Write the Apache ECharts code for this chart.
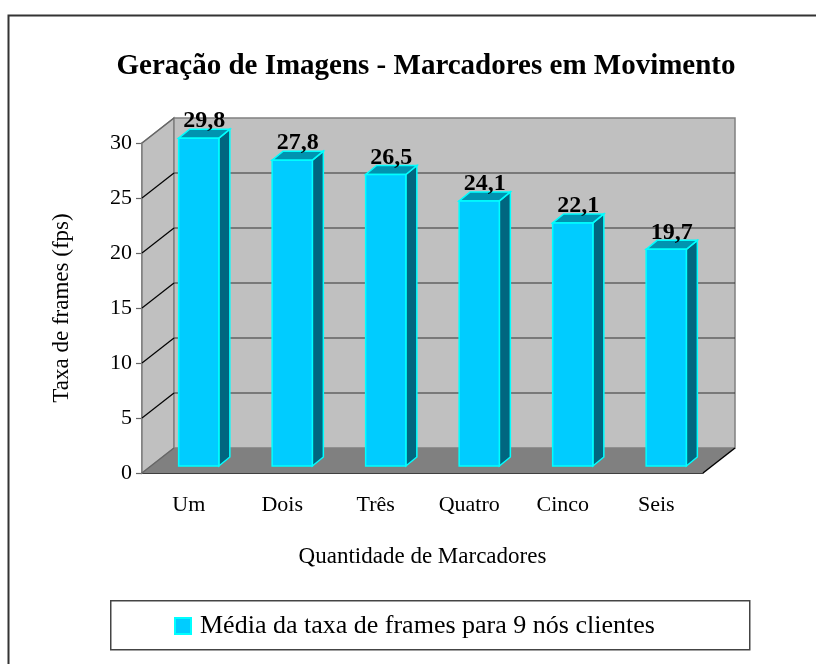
<!DOCTYPE html>
<html>
<head>
<meta charset="utf-8">
<script src="https://cdn.jsdelivr.net/npm/echarts@6/dist/echarts.min.js"></script>
<style>
  html, body { margin: 0; padding: 0; background: #fff; }
  #chart { width: 816px; height: 664px; }
</style>
</head>
<body>
<div id="chart"></div>
<script>
// Frame rate per number of moving markers
var categories = ['Um', 'Dois', 'Três', 'Quatro', 'Cinco', 'Seis'];
var frameRates = [29.8, 27.8, 26.5, 24.1, 22.1, 19.7];
var yTicks = [0, 5, 10, 15, 20, 25, 30];
var seriesName = 'Média da taxa de frames para 9 nós clientes';

var FONT = 'Liberation Serif';
// Depth of the 3D box (pixels) and of each bar
var WALL_DX = 32, WALL_DY = 25;
var BAR_OX = 10, BAR_OY = 7;
var BAR_DX = 11, BAR_DY = 9;

function fmt(v) { return v.toFixed(1).replace('.', ','); }

var chart = echarts.init(document.getElementById('chart'), null, { renderer: 'canvas' });

function renderWalls(params, api) {
  var n = categories.length;
  var band = api.size([1, 0])[0];
  var x0 = api.coord([0, 0])[0] - band / 2;
  var xR = api.coord([n - 1, 0])[0] + band / 2;
  var yMax = yTicks[yTicks.length - 1];
  var yTop = api.coord([0, yMax])[1];
  var yBot = api.coord([0, 0])[1];
  var kids = [];
  // left wall
  kids.push({ type: 'polygon', shape: { points: [[x0, yBot], [x0, yTop], [x0 + WALL_DX, yTop - WALL_DY], [x0 + WALL_DX, yBot - WALL_DY]] },
    style: { fill: '#C0C0C0', stroke: '#808080', lineWidth: 1.5 } });
  // back wall
  kids.push({ type: 'rect', shape: { x: x0 + WALL_DX, y: yTop - WALL_DY, width: xR - x0, height: yBot - yTop },
    style: { fill: '#C0C0C0', stroke: '#808080', lineWidth: 1.5 } });
  // floor
  kids.push({ type: 'polygon', shape: { points: [[x0, yBot], [xR, yBot], [xR + WALL_DX, yBot - WALL_DY], [x0 + WALL_DX, yBot - WALL_DY]] },
    style: { fill: '#808080', stroke: null } });
  kids.push({ type: 'line', shape: { x1: xR, y1: yBot, x2: xR + WALL_DX, y2: yBot - WALL_DY },
    style: { stroke: '#000', lineWidth: 1.5 } });
  // gridlines on back wall, and their diagonals on the left wall
  yTicks.forEach(function (t) {
    var y = api.coord([0, t])[1];
    if (t > 0 && t < yMax) {
      kids.push({ type: 'line', shape: { x1: x0 + WALL_DX, y1: y - WALL_DY, x2: xR + WALL_DX, y2: y - WALL_DY },
        style: { stroke: '#333', lineWidth: 1.2 } });
    }
    kids.push({ type: 'line', shape: { x1: x0, y1: y, x2: x0 + WALL_DX, y2: y - WALL_DY },
      style: { stroke: t === 0 || t === yMax ? '#666' : '#000', lineWidth: 1.2 } });
  });
  return { type: 'group', children: kids };
}

function renderBar(params, api) {
  var idx = api.value(0);
  var val = api.value(1);
  var c = api.coord([idx, val]);
  var b = api.coord([idx, 0]);
  var w = api.size([1, 0])[0] * 0.43;
  var fx = c[0] - w / 2 + BAR_OX;
  var top = c[1] - BAR_OY;
  var bottom = b[1] - BAR_OY;
  var edge = '#00FFFF';
  return {
    type: 'group',
    children: [
      { type: 'polygon', shape: { points: [[fx + w, top], [fx + w + BAR_DX, top - BAR_DY], [fx + w + BAR_DX, bottom - BAR_DY], [fx + w, bottom]] },
        style: { fill: '#006680', stroke: edge, lineWidth: 1.5 } },
      { type: 'polygon', shape: { points: [[fx, top], [fx + BAR_DX, top - BAR_DY], [fx + w + BAR_DX, top - BAR_DY], [fx + w, top]] },
        style: { fill: '#0093B0', stroke: edge, lineWidth: 1.5 } },
      { type: 'rect', shape: { x: fx, y: top, width: w, height: bottom - top },
        style: { fill: '#00CCFF', stroke: edge, lineWidth: 1.5 } },
      { type: 'text', x: fx + w / 2 + BAR_DX / 2, y: top - BAR_DY - 8,
        style: { text: fmt(val), fill: '#000', font: 'bold 24px "' + FONT + '"', align: 'center', verticalAlign: 'middle' } }
    ]
  };
}

var option = {
  backgroundColor: '#fff',
  animation: false,
  title: {
    text: 'Geração de Imagens - Marcadores em Movimento',
    left: 421, top: 47, textAlign: 'center',
    textStyle: { fontFamily: FONT, fontWeight: 'bold', fontSize: 29, color: '#000' }
  },
  graphic: [
    { type: 'rect', left: 6, top: 13, shape: { width: 830, height: 700 }, style: { fill: 'none', stroke: '#333', lineWidth: 2 }, z: -10 },
    { type: 'rect', left: 110, top: 600, shape: { width: 639, height: 49 }, style: { fill: '#fff', stroke: '#444', lineWidth: 1.5 }, z: -5 }
  ],
  legend: {
    data: [seriesName],
    left: 169, top: 608,
    itemWidth: 16, itemHeight: 16, icon: 'rect',
    textStyle: { fontFamily: FONT, fontSize: 26, color: '#000', padding: [0, 0, 0, 4] }
  },
  grid: { left: 142, right: 113, top: 143, bottom: 191, containLabel: false },
  xAxis: {
    type: 'category', data: categories,
    name: 'Quantidade de Marcadores', nameLocation: 'middle', nameGap: 72,
    nameTextStyle: { fontFamily: FONT, fontSize: 23, color: '#000' },
    axisLine: { lineStyle: { color: '#000', width: 1.5 } },
    axisTick: { length: 6, lineStyle: { color: '#000', width: 1.2 } },
    axisLabel: { fontFamily: FONT, fontSize: 22, color: '#000', margin: 21 },
    splitLine: { show: false }
  },
  yAxis: {
    type: 'value', min: 0, max: 30, interval: 5,
    name: 'Taxa de frames (fps)', nameLocation: 'middle', nameRotate: 90, nameGap: 69,
    nameTextStyle: { fontFamily: FONT, fontSize: 23, color: '#000' },
    axisLine: { show: true, lineStyle: { color: '#666', width: 1.5 } },
    axisTick: { show: true, length: 6, lineStyle: { color: '#666', width: 1.2 } },
    axisLabel: { fontFamily: FONT, fontSize: 22, color: '#000', margin: 10 },
    splitLine: { show: false }
  },
  series: [
    { type: 'custom', name: 'walls', renderItem: renderWalls, data: [[0, 0]], silent: true, z: 1, clip: false },
    {
      type: 'custom', name: seriesName, renderItem: renderBar, z: 3, clip: false,
      itemStyle: { color: '#00CCFF', borderColor: '#00FFFF', borderWidth: 1 },
      data: categories.map(function (c, i) { return [i, frameRates[i]]; })
    }
  ]
};
chart.setOption(option);
</script>
</body>
</html>
